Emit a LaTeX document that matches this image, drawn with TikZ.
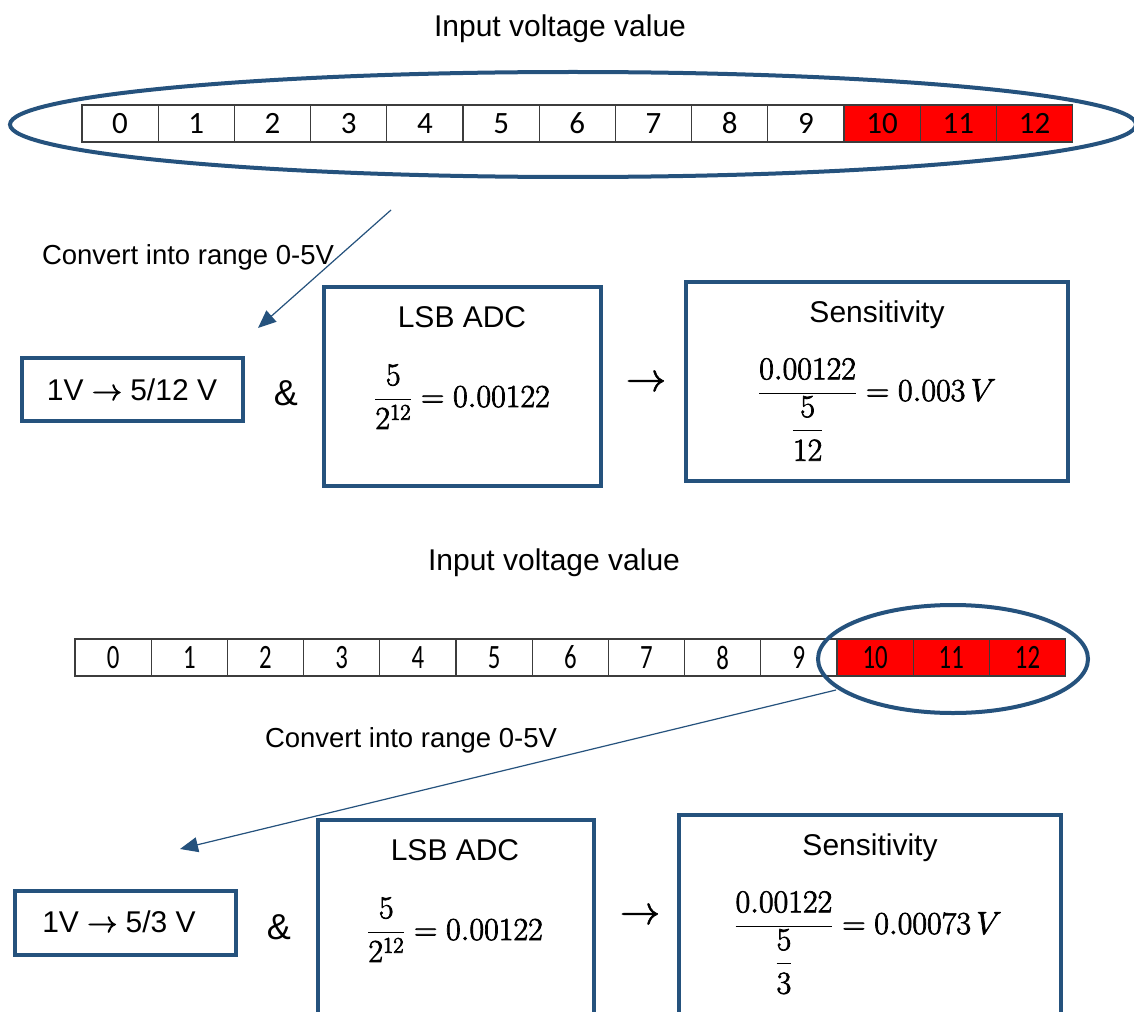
\RequirePackage{fix-cm}
\documentclass[tikz,border=0pt]{standalone}
\usepackage{amsmath}
\usepackage[no-math]{fontspec}
\newfontfamily\arial{Liberation Sans}
\newfontfamily\calib{Carlito}
\usetikzlibrary{shapes.geometric,arrows.meta}
\definecolor{boxblue}{RGB}{37,82,125}
\definecolor{cellgray}{RGB}{60,60,60}
\newcommand\heavy[1]{\special{pdf:literal direct 2 Tr 0.7 w}#1\special{pdf:literal direct 0 Tr}}
\begin{document}
\begin{tikzpicture}[x=1pt,y=-1pt,
  lbl/.style={font=\arial\fontsize{30}{36}\selectfont, inner sep=0pt, anchor=base},
  conv/.style={font=\arial\fontsize{27.5}{33}\selectfont, inner sep=0pt, anchor=base},
  frm/.style={font=\fontsize{32}{38}\selectfont, inner sep=0pt, anchor=base},
  cellw/.style={draw=cellgray, line width=1.3pt, fill=white, minimum width=76.2pt, minimum height=37pt, inner sep=0pt, font=\calib\fontsize{31}{36}\selectfont},
  cellr/.style={cellw, fill=red},
  bluebox/.style={draw=boxblue, line width=4pt, inner sep=0pt},
  ring/.style={ellipse, draw=boxblue, line width=4pt, inner sep=0pt},
  pointer/.style={draw=boxblue, line width=1.2pt, -{Triangle[length=18pt,width=15pt]}}
]
\clip (0,0) rectangle (1134,1011);
\fill[white] (0,0) rectangle (1134,1011);

% ---------- top part ----------
\node[lbl] (title1) at (560,37) {Input voltage value};
\foreach \i in {0,...,9}
  \node[cellw] (t\i) at ({82+38.1+76.2*\i},123.5) {\i};
\foreach \i in {10,11,12}
  \node[cellr] (t\i) at ({82+38.1+76.2*\i},123.5) {\i};
\node[ring, minimum width=1126pt, minimum height=105pt] (e1) at (573,124.5) {};

\coordinate (a1s) at (391,210);
\coordinate (a1e) at (258,328);
\node[conv] (conv1) at (188,264) {Convert into range 0-5V};
\draw[pointer] (a1s) -- (a1e);

\node[bluebox, minimum width=221pt, minimum height=63pt] (b1) at (132.5,389.5) {};
\node[lbl] (v1) at (132,400) {1V \heavy{$\rightarrow$} 5/12 V};
\node[lbl, font=\arial\fontsize{36}{40}\selectfont] (amp1) at (286,405) {\&};

\node[bluebox, minimum width=277pt, minimum height=199pt] (lsb1) at (462.5,386.5) {};
\node[lbl] (lsbt1) at (462,327) {LSB ADC};
\node[frm] (lsbf1) at (462,407) {\heavy{$\dfrac{5}{2^{12}} = 0.00122$}};

\node[frm, font=\fontsize{40}{44}\selectfont] (arr1) at (646,391) {\heavy{$\rightarrow$}};

\node[bluebox, minimum width=382pt, minimum height=199pt] (sen1) at (877,381.5) {};
\node[lbl] (sent1) at (877,322) {Sensitivity};
\node[frm] (senf1) at (877,401) {\heavy{$\dfrac{0.00122}{\dfrac{5}{12}} = 0.003\,V$}};

% ---------- bottom part ----------
\node[lbl] (title2) at (554,570) {Input voltage value};
\foreach \i in {0,...,9}
  \node[cellw] (d\i) at ({75+38.1+76.2*\i},657.5) {\scalebox{0.8}[1.1]{\i}};
\foreach \i in {10,11,12}
  \node[cellr] (d\i) at ({75+38.1+76.2*\i},657.5) {\scalebox{0.8}[1.1]{\i}};
\node[ring, minimum width=270pt, minimum height=108pt] (e2) at (953,659) {};

\coordinate (a2s) at (836,690);
\coordinate (a2e) at (180,849);
\node[conv] (conv2) at (411,747) {Convert into range 0-5V};
\draw[pointer] (a2s) -- (a2e);

\node[bluebox, minimum width=221pt, minimum height=64pt] (b2) at (125.5,923) {};
\node[lbl] (v2) at (119,932) {1V \heavy{$\rightarrow$} 5/3 V};
\node[lbl, font=\arial\fontsize{36}{40}\selectfont] (amp2) at (279,939) {\&};

\node[bluebox, minimum width=276pt, minimum height=230pt] (lsb2) at (456,935) {};
\node[lbl] (lsbt2) at (455,860) {LSB ADC};
\node[frm] (lsbf2) at (455,940) {\heavy{$\dfrac{5}{2^{12}} = 0.00122$}};

\node[frm, font=\fontsize{40}{44}\selectfont] (arr2) at (640,924) {\heavy{$\rightarrow$}};

\node[bluebox, minimum width=382pt, minimum height=230pt] (sen2) at (870,930) {};
\node[lbl] (sent2) at (870,855) {Sensitivity};
\node[frm] (senf2) at (868,934) {\heavy{$\dfrac{0.00122}{\dfrac{5}{3}} = 0.00073\,V$}};
\end{tikzpicture}
\end{document}
